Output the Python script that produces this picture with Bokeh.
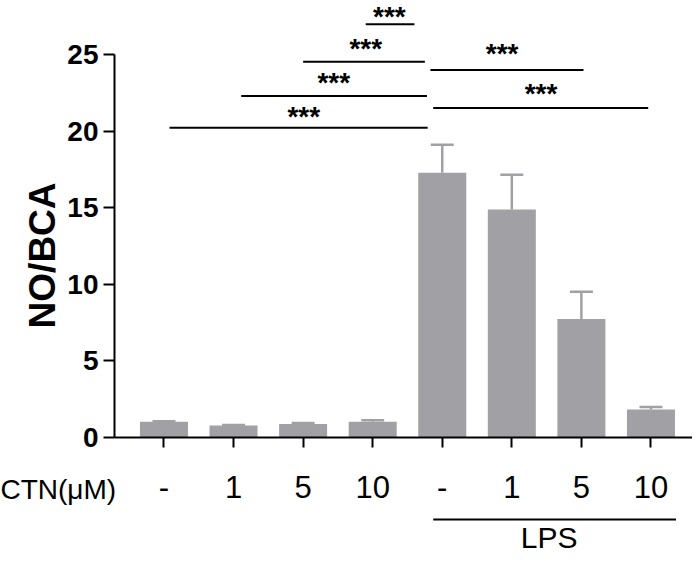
import math
from bokeh.plotting import figure
from bokeh.models import FixedTicker, Range1d
from bokeh.core.properties import value
from bokeh.embed import file_html
from bokeh.resources import INLINE

# ---- data ----
groups = ["-", "1", "5", "10", "-", "1", "5", "10"]
means = [1.03, 0.79, 0.88, 1.03, 17.3, 14.9, 7.74, 1.83]
sds = [0.04, 0.03, 0.06, 0.10, 1.83, 2.27, 1.79, 0.17]
y_ticks = [0, 5, 10, 15, 20, 25]

sig_x0 = [0.08, 1.11, 2.00, 2.90, 3.83, 3.87]
sig_x1 = [3.79, 3.78, 3.75, 3.60, 6.03, 6.96]
sig_y = [20.25, 22.32, 24.56, 27.0, 24.02, 21.53]
sig_text_x = [2.01, 2.44, 2.90, 3.24, 4.86, 5.42]
sig_text_y = [21.14, 23.34, 25.58, 27.68, 25.26, 22.66]
sig_labels = ["***", "***", "***", "***", "***", "***"]

lps_range = [3.87, 7.36]

# ---- layout ----
FONT = "Liberation Sans"
W, H = 692, 555
LEFT, RIGHT, TOP, BOTTOM = 114, 0, 0, 118
Y0, Y1 = 0, 28.56
frame_h = H - TOP - BOTTOM
px = (Y1 - Y0) / frame_h  # data units per pixel

x_pos = list(range(len(means)))
tops = [m + s for m, s in zip(means, sds)]

p = figure(width=W, height=H, output_backend="svg", toolbar_location=None,
           x_range=Range1d(-0.711, 7.597), y_range=Range1d(Y0, Y1),
           min_border_left=LEFT, min_border_right=RIGHT,
           min_border_top=TOP, min_border_bottom=BOTTOM)
p.outline_line_color = None
p.xgrid.visible = False
p.ygrid.visible = False
p.background_fill_color = "white"
p.border_fill_color = "white"

bar_color = "#a1a0a5"
# error bars
p.segment(x0=x_pos, x1=x_pos, y0=means, y1=tops, line_color=bar_color, line_width=2.5)
p.segment(x0=[x - 0.165 for x in x_pos], x1=[x + 0.165 for x in x_pos], y0=tops, y1=tops,
          line_color=bar_color, line_width=2.5)
# bars
p.vbar(x=x_pos, top=means, width=0.69, fill_color=bar_color, line_color=None)

# significance
p.segment(x0=sig_x0, x1=sig_x1, y0=sig_y, y1=sig_y, line_color="black", line_width=2)
p.text(x=sig_text_x, y=sig_text_y, text=sig_labels, text_align="center",
       text_baseline="top", y_offset=-13, text_font_size="28px",
       text_font_style="bold", text_font=value(FONT), text_color="black")

# y axis
ya = p.yaxis[0]
ya.ticker = FixedTicker(ticks=y_ticks)
ya.bounds = (0, 25)
ya.major_tick_out = 11
ya.major_tick_in = 0
ya.minor_tick_out = 0
ya.minor_tick_in = 0
ya.major_tick_line_width = 2
ya.axis_line_width = 2
ya.major_tick_line_color = "black"
ya.axis_line_color = "black"
ya.major_label_text_font = FONT
ya.major_label_text_font_size = "28px"
ya.major_label_text_font_style = "bold"
ya.major_label_text_color = "black"
ya.major_label_standoff = 5

# y axis title drawn as rotated text, centred on the 0-25 span
p.text(x=[-0.711], y=[(y_ticks[0] + y_ticks[-1]) / 2 - 0.6], text=["NO/BCA"],
       x_offset=-72, angle=math.pi / 2, text_align="center", text_baseline="middle",
       text_font_size="37px", text_font_style="bold", text_font=value(FONT),
       text_color="black", level="overlay")

# x axis
xa = p.xaxis[0]
xa.ticker = FixedTicker(ticks=x_pos)
xa.major_label_overrides = {i: g for i, g in enumerate(groups)}
xa.major_tick_out = 10
xa.major_tick_in = 0
xa.minor_tick_out = 0
xa.minor_tick_in = 0
xa.major_tick_line_width = 2
xa.axis_line_width = 2
xa.major_tick_line_color = "black"
xa.axis_line_color = "black"
xa.major_label_text_font = FONT
xa.major_label_text_font_size = "31px"
xa.major_label_text_color = "black"
xa.major_label_standoff = 28

# row label and LPS group marker (below the axis, drawn in overlay level)
p.text(x=[-0.711], y=[0], text=["CTN(μM)"], x_offset=-114, y_offset=52,
       text_align="left", text_baseline="middle", text_font_size="28px",
       text_font=value(FONT), text_color="black", level="overlay")
p.segment(x0=[lps_range[0]], x1=[lps_range[1]], y0=[-82 * px], y1=[-82 * px],
          line_color="black", line_width=2, level="overlay")
p.text(x=[(lps_range[0] + lps_range[1]) / 2 - 0.08], y=[0], text=["LPS"], y_offset=100,
       text_align="center", text_baseline="middle", text_font_size="30px",
       text_font=value(FONT), text_color="black", level="overlay")

open("out.html", "w").write(file_html(p, INLINE))
